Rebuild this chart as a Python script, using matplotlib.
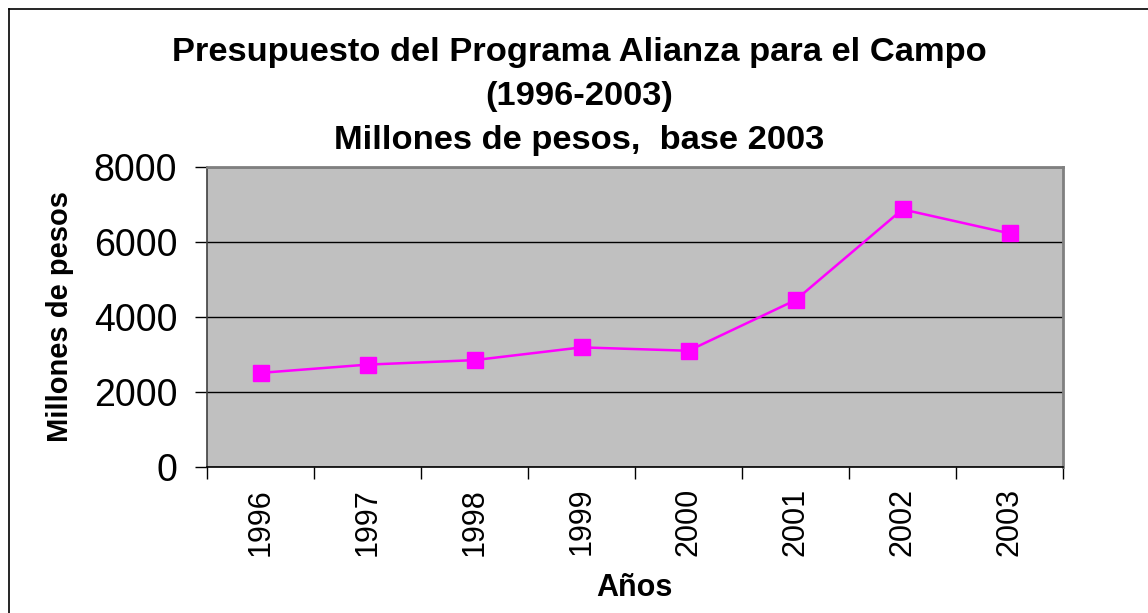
import matplotlib
matplotlib.use("Agg")
import matplotlib.pyplot as plt
from matplotlib.lines import Line2D
import numpy as np

years = ["1996", "1997", "1998", "1999", "2000", "2001", "2002", "2003"]
values = [2510, 2730, 2850, 3190, 3100, 4450, 6870, 6230]
yticks = [0, 2000, 4000, 6000, 8000]
title_lines = ["Presupuesto del Programa Alianza para el Campo", "(1996-2003)", "Millones de pesos,  base 2003"]
xlabel = "Años"
ylabel = "Millones de pesos"

plt.rcParams['font.family'] = ['Liberation Sans', 'DejaVu Sans']

W, H = 1148, 613
fig = plt.figure(figsize=(W / 100, H / 100), dpi=100)
fig.patch.set_facecolor('white')

ax = fig.add_axes([207 / W, 1 - 467 / H, (1063 - 207) / W, (467 - 167) / H])
ax.set_facecolor('#C0C0C0')

x = np.arange(len(years)) + 0.5
ax.plot(x, values, color='#FF00FF', lw=1.8, marker='s', markersize=11,
        markerfacecolor='#FF00FF', markeredgecolor='#FF00FF', zorder=3)

ax.set_xlim(0, len(years))
ax.set_ylim(0, 8000)
ax.set_yticks(yticks)
ax.set_yticklabels([str(v) for v in yticks], fontsize=27)
ax.yaxis.grid(True, color='black', lw=1.0)
ax.set_axisbelow(True)

ax.set_xticks(np.arange(len(years) + 1))
ax.set_xticklabels([])
ax.set_xticks(x, minor=True)
ax.set_xticklabels(years, minor=True, rotation=90, fontsize=22)
ax.tick_params(axis='x', which='major', direction='out', length=8.5, width=1, color='black')
ax.tick_params(axis='x', which='minor', length=0, pad=15)
ax.tick_params(axis='y', direction='out', length=8.5, width=1, pad=13, color='black')

for s in ['top', 'right']:
    ax.spines[s].set_color('#808080')
    ax.spines[s].set_linewidth(2.0)
ax.spines['left'].set_color('#404040')
ax.spines['bottom'].set_color('black')
ax.spines['left'].set_linewidth(1.2)
ax.spines['bottom'].set_linewidth(1.2)

cx = 579 / W
for txt, yy in zip(title_lines, [52, 97, 140]):
    fig.text(cx, 1 - yy / H, txt, ha='center', va='center', fontsize=24.8, fontweight='bold')

fig.text(60 / W, 1 - 317 / H, ylabel, rotation=90, ha='center', va='center', fontsize=21, fontweight='bold')
fig.text(634 / W, 1 - 588 / H, xlabel, ha='center', va='center', fontsize=22, fontweight='bold')

fig.add_artist(Line2D([8.5 / W, 8.5 / W], [0, 1 - 8.5 / H], transform=fig.transFigure, color='black', lw=1.2))
fig.add_artist(Line2D([8.5 / W, 1], [1 - 8.5 / H, 1 - 8.5 / H], transform=fig.transFigure, color='black', lw=1.2))

fig.savefig('out.png', dpi=100)
